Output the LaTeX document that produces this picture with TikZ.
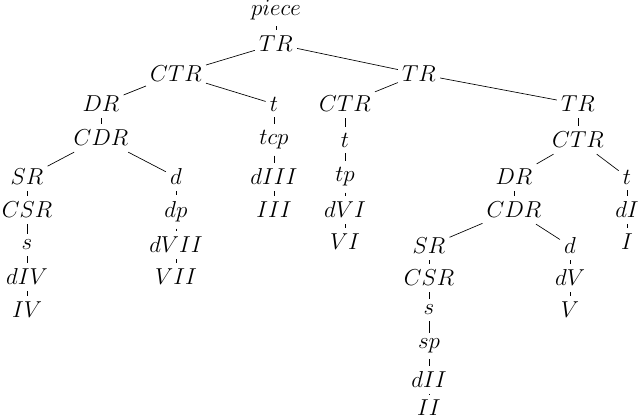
\documentclass[tikz,border=0pt]{standalone}
\begin{document}
\begin{tikzpicture}[x=0.75pt,y=-0.75pt,every node/.style={inner xsep=3pt,inner ysep=4.5pt,font=\fontsize{18}{20}\selectfont},e/.style={line width=0.5pt}]
\useasboundingbox (0,0) rectangle (640,416);
\node (piece) at (276,10) {$piece$};
\node (tr1) at (276,44) {$TR$};
\node (ctr1) at (176,74) {$CTR$};
\node (tr2) at (419,74) {$TR$};
\node (dr1) at (101,104) {$DR$};
\node (t1) at (274,104) {$t$};
\node (ctr2) at (345,104) {$CTR$};
\node (tr3) at (578,104) {$TR$};
\node (cdr1) at (101,138) {$CDR$};
\node (tcp) at (274,140) {$tcp$};
\node (t2) at (345,140) {$t$};
\node (ctr3) at (578,140) {$CTR$};
\node (sr1) at (27,177) {$SR$};
\node (d1) at (176,177) {$d$};
\node (diii) at (274,177) {$dIII$};
\node (tp) at (345,177) {$tp$};
\node (dr2) at (514,177) {$DR$};
\node (t3) at (627,177) {$t$};
\node (csr1) at (27,210) {$CSR$};
\node (dp) at (176,212) {$dp$};
\node (iii) at (274,210) {$III$};
\node (dvi) at (345,210) {$dVI$};
\node (cdr2) at (514,210) {$CDR$};
\node (di) at (627,210) {$dI$};
\node (s1) at (27,245) {$s$};
\node (dvii) at (176,245) {$dVII$};
\node (vi) at (345,242) {$VI$};
\node (sr2) at (429,246) {$SR$};
\node (d2) at (570,246) {$d$};
\node (i) at (627,242) {$I$};
\node (div) at (27,277) {$dIV$};
\node (vii) at (176,277) {$VII$};
\node (csr2) at (429,278) {$CSR$};
\node (dv) at (570,278) {$dV$};
\node (iv) at (27,310) {$IV$};
\node (s2) at (429,310) {$s$};
\node (v) at (570,310) {$V$};
\node (sp) at (429,346) {$sp$};
\node (dii) at (429,380) {$dII$};
\node (ii) at (429,408) {$II$};
\foreach \a/\b in {piece/tr1,tr1/ctr1,tr1/tr2,ctr1/dr1,ctr1/t1,tr2/ctr2,tr2/tr3,dr1/cdr1,t1/tcp,ctr2/t2,tr3/ctr3,cdr1/sr1,cdr1/d1,tcp/diii,t2/tp,ctr3/dr2,ctr3/t3,sr1/csr1,d1/dp,diii/iii,tp/dvi,dr2/cdr2,t3/di,csr1/s1,dp/dvii,dvi/vi,cdr2/sr2,cdr2/d2,di/i,s1/div,dvii/vii,sr2/csr2,d2/dv,div/iv,csr2/s2,dv/v,s2/sp,sp/dii,dii/ii}
  \draw[e] (\a) -- (\b);
\end{tikzpicture}
\end{document}
